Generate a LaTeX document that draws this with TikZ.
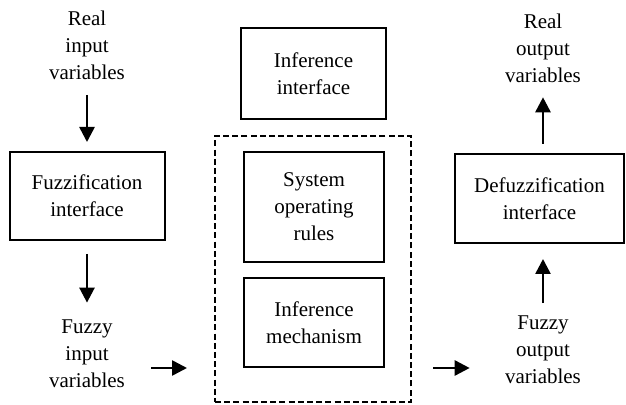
\documentclass[tikz,border=0pt]{standalone}
\usepackage{fontspec}
\setmainfont{Liberation Serif}
\usepackage{tikz}
\usetikzlibrary{positioning, arrows.meta, calc}

\tikzset{
    lbl/.style={align=center, inner sep=0pt, font=\fontsize{10.5}{13.5}\selectfont},
    blk/.style={draw, line width=1pt, align=center, inner sep=0pt, font=\fontsize{10.5}{13.5}\selectfont},
    engine/.style={draw, line width=1pt, dash pattern=on 3pt off 1.6pt},
    flow/.style={line width=1.3pt, -{Triangle[length=7.5pt, width=7.5pt]}}
}

\begin{document}
\begin{tikzpicture}[x=0.5pt, y=-0.5pt]
    \useasboundingbox (0,0) rectangle (626,405);

    % input side
    \node[lbl] (realin) at (87,45) {Real\\input\\variables};
    \node[blk, minimum width=77.5pt, minimum height=44pt] (fuzz) at (87,196)
        {Fuzzification\\interface};
    \node[lbl] (fzin) at (87,354) {Fuzzy\\input\\variables};

    % inference part
    \node[blk, minimum width=72.5pt, minimum height=45.5pt] (infif) at (313.5,73.5)
        {Inference\\interface};
    \node[engine, minimum width=98pt, minimum height=133pt] (dash) at (313,269) {};
    \node[blk, minimum width=70pt, minimum height=55pt] (sysrules) at (314,207)
        {System\\operating\\rules};
    \node[blk, minimum width=70pt, minimum height=44.5pt] (infmech) at (314,322.5)
        {Inference\\mechanism};

    % output side
    \node[lbl] (realout) at (543,48) {Real\\output\\variables};
    \node[blk, minimum width=84.5pt, minimum height=44.5pt] (defuzz) at (539.5,198.5)
        {Defuzzification\\interface};
    \node[lbl] (fzout) at (543,350) {Fuzzy\\output\\variables};

    % arrows
    \draw[flow, shorten <=7.5pt, shorten >=4.5pt] (realin.south) -- (realin.south |- fuzz.north);
    \draw[flow, shorten <=6.5pt, shorten >=8.5pt] (realin.south |- fuzz.south) -- (fzin.north);
    \draw[flow, shorten <=13pt, shorten >=13.5pt]
        (fzin.east |- infmech.south) -- (dash.west |- infmech.south);
    \draw[flow, shorten <=10.5pt, shorten >=17.5pt]
        (dash.east |- infmech.south) -- (fzout.west |- infmech.south);
    \draw[flow, shorten <=6.25pt, shorten >=7.5pt] (fzout.north) -- (fzout.north |- defuzz.south);
    \draw[flow, shorten <=4.5pt, shorten >=7.25pt] (fzout.north |- defuzz.north) -- (realout.south);
\end{tikzpicture}
\end{document}
